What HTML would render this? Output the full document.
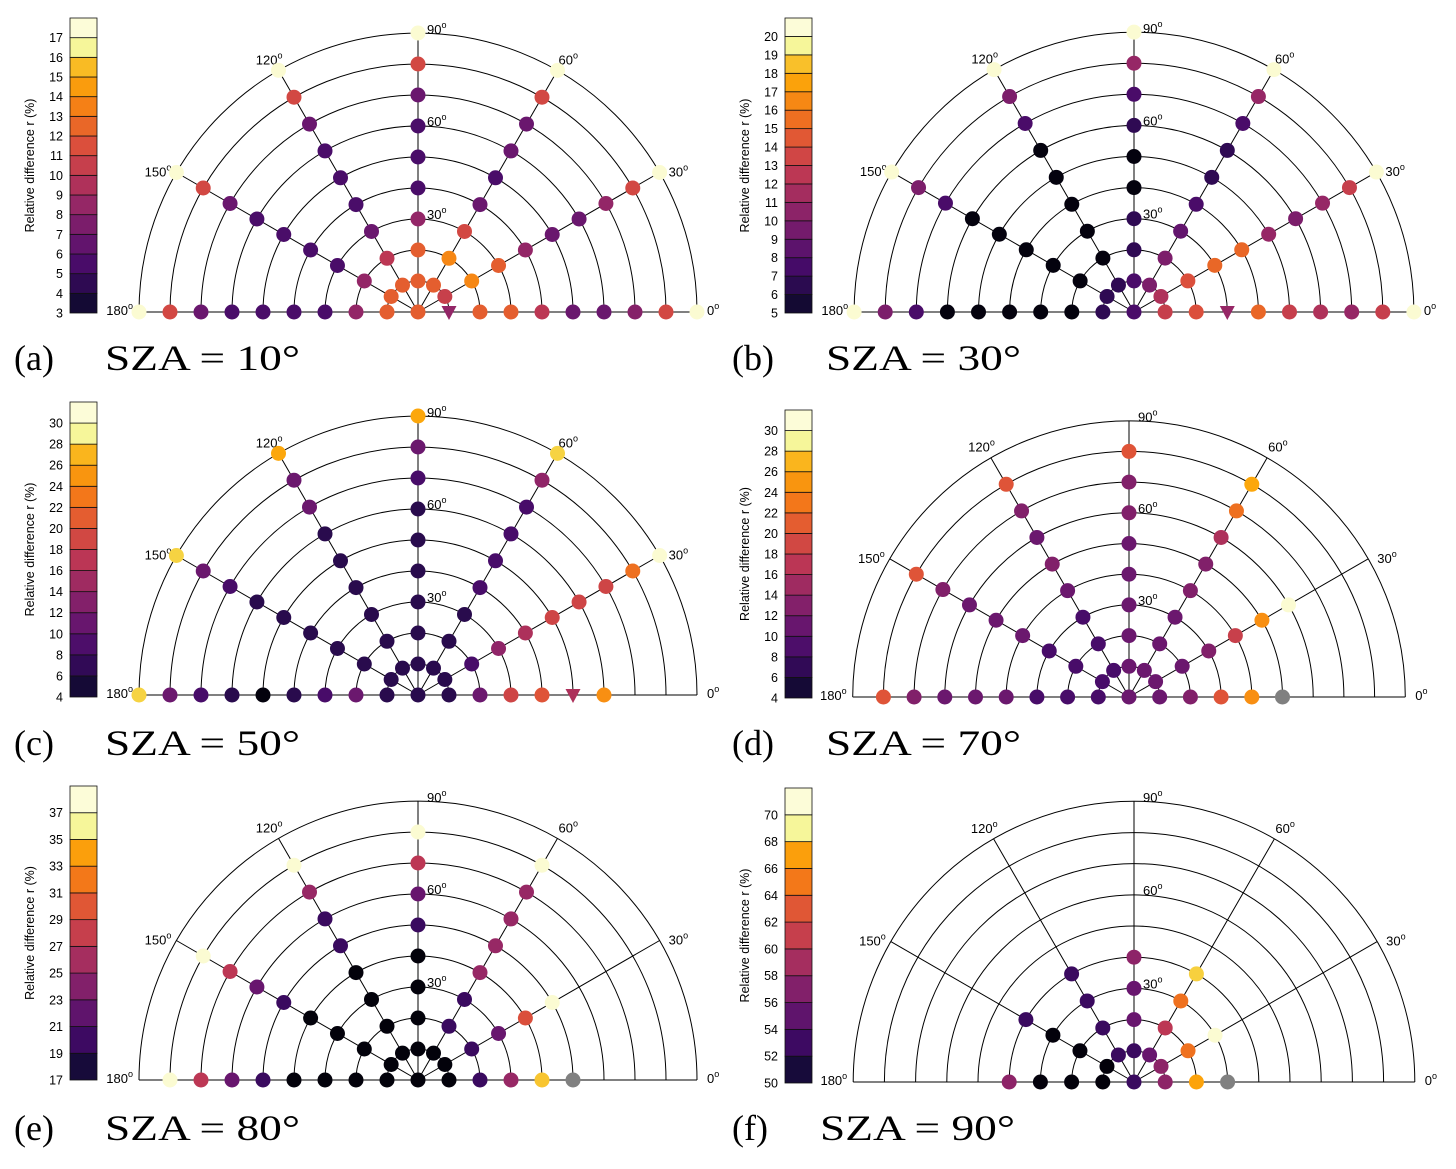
<!DOCTYPE html>
<html><head><meta charset="utf-8"><style>
html,body{margin:0;padding:0;background:#fff;}
svg{display:block;}
</style></head><body>
<svg id="fig" width="1456" height="1169" viewBox="0 0 1456 1169" xmlns="http://www.w3.org/2000/svg"></svg>
<script>
// ---------- data ----------
const spokeAngles = [180,150,120,90,60,30,0];

// Panel a (SZA 10)
const aTicks = [3,4,5,6,7,8,9,10,11,12,13,14,15,16,17];
const aCenter = 12.5;
const a180 = [12.5,9,6.3,6.3,6.3,6.3,7.5,11.5,17.7];
const a150 = [12.5,9,6.3,6.3,6.3,6.3,7.5,11.5,17.7];
const a120 = [12.5,10.5,7.5,6.3,6.3,6.3,7.5,11.5,17.7];
const a90  = [12.5,12.5,9,6.3,6.3,6.3,7.5,11.5,17.7];
const a60  = [12.5,14,11.5,7.5,6.3,7.5,7.5,11.5,17.7];
const a30  = [11,14,12.5,9,7.5,7.5,9,11.5,17.7];
const a0   = [9,12.5,12.5,10.5,7.5,7.5,8.5,11.5,17.7];
const aTriangles = [[0,1]];

// Panel b (SZA 30)
const bTicks = [5,6,7,8,9,10,11,12,13,14,15,16,17,18,19,20];
const bCenter = 8.5;
const b180 = [7.5,5.3,5.3,5.3,5.3,5.3,8.5,10.5,20.8];
const b150 = [7.5,5.3,5.3,5.3,5.3,5.3,8.5,10.5,20.8];
const b120 = [7.5,5.3,5.3,5.3,5.3,5.3,8.5,10.5,20.8];
const b90  = [8.5,7.5,7.5,5.3,5.3,7.5,8.5,11.5,20.8];
const b60  = [10.5,10.5,9.5,8.5,7.5,7.5,8.5,11.5,20.8];
const b30  = [12.5,14.5,15.5,15.5,11.5,10.5,11.5,13.5,20.8];
const b0   = [13.5,14.5,11.5,15.5,13.5,12.5,11.5,13.5,20.8];
const bTriangles = [[0,3]];

// Panel c (SZA 50)
const cTicks = [4,6,8,10,12,14,16,18,20,22,24,26,28,30];
const cCenter = 8;
const c180 = [8,12.5,10,8,4.5,8,10,12.5,29];
const c150 = [8,8,8,8,8,8,10,12.5,29];
const c120 = [8,8,8,8,8,8,12.5,12.5,26.5];
const c90  = [8,8,8,8,8,8,10,12.5,26.5];
const c60  = [8,8,8,10,10,10,10,15,29];
const c30  = [8,10,15,17,19.5,19.5,19.5,23,31.6];
const c0   = [8,12.5,19.5,21,17,25,null,null,null];
const cTriangles = [[0,5]];

// Panel d (SZA 70)
const dTicks = [4,6,8,10,12,14,16,18,20,22,24,26,28,30];
const dCenter = 12.5;
const d180 = [10,10,10,12.5,12.5,12.5,14,21,null];
const d150 = [10,10,10,12.5,12.5,12.5,14,21,null];
const d120 = [10,10,10,12.5,14,12.5,14,21,null];
const d90  = [12.5,12.5,12.5,12.5,12.5,14,14,21,null];
const d60  = [12.5,12.5,12.5,14,14,17,23,26.5,null];
const d30  = [12.5,12.5,14,19,25,31.6,null,null,null];
const d0   = [12.5,14,21,25,NaN,null,null,null,null];
const dTriangles = [];

// Panel e (SZA 80)
const eTicks = [17,19,21,23,25,27,29,31,33,35,37];
const eCenter = 17.3;
const e180 = [17.3,17.3,17.3,17.3,21,23.5,28,38.5,null];
const e150 = [17.3,17.3,17.3,17.3,21,23.5,28,38.5,null];
const e120 = [17.3,17.3,17.3,17.3,21,21,26,38.5,null];
const e90  = [17.3,17.3,17.3,17.3,21,23.5,28,38.5,null];
const e60  = [17.3,21,21,26,26,26,26,38.5,null];
const e30  = [17.3,21,23.5,30,38.5,null,null,null,null];
const e0   = [17.3,21,26,36,NaN,null,null,null,null];
const eTriangles = [];

// Panel f (SZA 90)
const fTicks = [50,52,54,56,58,60,62,64,66,68,70];
const fCenter = 54;
const f180 = [50.3,50.3,50.3,58.5,null,null,null,null,null];
const f150 = [50.3,50.3,50.3,54,null,null,null,null,null];
const f120 = [54,54,54,54,null,null,null,null,null];
const f90  = [54,56.5,56.5,58.5,null,null,null,null,null];
const f60  = [56.5,61,65,69.5,null,null,null,null,null];
const f30  = [58.5,65,71.5,null,null,null,null,null,null];
const f0   = [58.5,67.5,NaN,null,null,null,null,null,null];
const fTriangles = [];

// ---------- layout ----------
const panels = [
 {id:'a',label:'(a)',sza:'SZA = 10°',cx:418,cy:312,dr:31,cbx:70,cbTop:18,cbBot:313,vmin:3,vmax:18,step:1,ticks:aTicks,center:aCenter,vals:[a180,a150,a120,a90,a60,a30,a0],tri:aTriangles,capY:370,capX:14,szaX:105},
 {id:'b',label:'(b)',sza:'SZA = 30°',cx:1134,cy:312,dr:31.1,cbx:785,cbTop:18,cbBot:313,vmin:5,vmax:21,step:1,ticks:bTicks,center:bCenter,vals:[b180,b150,b120,b90,b60,b30,b0],tri:bTriangles,capY:370,capX:732,szaX:826},
 {id:'c',label:'(c)',sza:'SZA = 50°',cx:418,cy:695,dr:31,cbx:70,cbTop:402,cbBot:697,vmin:4,vmax:32,step:2,ticks:cTicks,center:cCenter,vals:[c180,c150,c120,c90,c60,c30,c0],tri:cTriangles,capY:755,capX:14,szaX:105},
 {id:'d',label:'(d)',sza:'SZA = 70°',cx:1129,cy:697,dr:30.7,cbx:785,cbTop:410,cbBot:698,vmin:4,vmax:32,step:2,ticks:dTicks,center:dCenter,vals:[d180,d150,d120,d90,d60,d30,d0],tri:dTriangles,capY:755,capX:732,szaX:826},
 {id:'e',label:'(e)',sza:'SZA = 80°',cx:418,cy:1080,dr:31,cbx:70,cbTop:786,cbBot:1080,vmin:17,vmax:39,step:2,ticks:eTicks,center:eCenter,vals:[e180,e150,e120,e90,e60,e30,e0],tri:eTriangles,capY:1140,capX:14,szaX:105},
 {id:'f',label:'(f)',sza:'SZA = 90°',cx:1134,cy:1082,dr:31.2,cbx:785,cbTop:788,cbBot:1083,vmin:50,vmax:72,step:2,ticks:fTicks,center:fCenter,vals:[f180,f150,f120,f90,f60,f30,f0],tri:fTriangles,capY:1140,capX:732,szaX:820}
];

const inf = ["#000004","#160b39","#420a68","#6a176e","#932667","#bc3754","#dd513a","#f37819","#fca50a","#f6d746","#fcffa4"];
function hx(s){return [parseInt(s.slice(1,3),16),parseInt(s.slice(3,5),16),parseInt(s.slice(5,7),16)];}
function cmap(t){
  t=Math.max(0,Math.min(1,t));
  if(t>=0.96) return '#fbfbd2';
  const p=t*10, i=Math.min(9,Math.floor(p)), f=p-i;
  const A=hx(inf[i]), B=hx(inf[i+1]);
  return 'rgb('+A.map((v,k)=>Math.round(v+(B[k]-v)*f)).join(',')+')';
}
const NS='http://www.w3.org/2000/svg';
const svg=document.getElementById('fig');
function mk(tag,attrs,parent){const e=document.createElementNS(NS,tag);for(const k in attrs)e.setAttribute(k,attrs[k]);(parent||svg).appendChild(e);return e;}
function degText(parent,x,y,num,anchor){
  const t=mk('text',{x:x,y:y,'font-family':'Liberation Sans, sans-serif','font-size':13,'text-anchor':anchor||'start',fill:'#000'},parent);
  
  
  t.appendChild(document.createTextNode(num));
  const s=mk('tspan',{'font-size':9,dy:-6},t);
  s.textContent='o';
  return t;
}

panels.forEach(p=>{
  const g=mk('g',{});
  
  
  // colorbar
  const n=Math.round((p.vmax-p.vmin)/p.step);
  const h=(p.cbBot-p.cbTop)/n;
  const cb=mk('g',{},g);
  
  
  for(let i=0;i<n;i++){
    const col = i===n-1 ? '#fcfcd8' : (i===n-2 ? '#f6f69a' : cmap(Math.min(0.95,0.06+(i+0.5)/n*0.94)));
    const r=mk('rect',{x:p.cbx,y:p.cbBot-(i+1)*h,width:27,height:h,fill:col,stroke:'#111','stroke-width':0.8},cb);
    
    
  }
  p.ticks.forEach(v=>{
    const y=p.cbBot-(v-p.vmin)/p.step*h;
    const t=mk('text',{x:p.cbx-7,y:y+4.5,'font-family':'Liberation Sans, sans-serif','font-size':12.5,'text-anchor':'end',fill:'#000'},cb);
    
    
    t.textContent=v;
  });
  const ymid=(p.cbTop+p.cbBot)/2, lx=p.cbx-36;
  const yl=mk('text',{x:lx,y:ymid,transform:'rotate(-90 '+lx+' '+ymid+')','font-family':'Liberation Sans, sans-serif','font-size':12.5,'text-anchor':'middle',fill:'#000'},cb);
  
  
  yl.textContent='Relative difference r (%)';

  // polar grid
  const R=9*p.dr;
  const grid=mk('g',{fill:'none',stroke:'#000','stroke-width':1},g);
  
  
  for(let k=1;k<=9;k++){
    const r=k*p.dr;
    const a=mk('path',{d:'M'+(p.cx-r)+' '+p.cy+' A'+r+' '+r+' 0 0 1 '+(p.cx+r)+' '+p.cy},grid);
    
    
  }
  const base=mk('line',{x1:p.cx-R,y1:p.cy,x2:p.cx+R,y2:p.cy},grid);
  
  
  [30,60,90,120,150].forEach(ang=>{
    const th=ang*Math.PI/180;
    const l=mk('line',{x1:p.cx,y1:p.cy,x2:p.cx+R*Math.cos(th),y2:p.cy-R*Math.sin(th)},grid);
    
    
  });
  // angle labels
  const lab=mk('g',{},g);
  
  
  degText(lab,p.cx+9,p.cy-R+1,'90');
  degText(lab,p.cx+9,p.cy-6*p.dr,'60');
  degText(lab,p.cx+9,p.cy-3*p.dr,'30');
  const c60=Math.cos(Math.PI/3), s60=Math.sin(Math.PI/3);
  degText(lab,p.cx-R*c60+4,p.cy-R*s60-6,'120','end');
  degText(lab,p.cx+R*c60+1,p.cy-R*s60-6,'60');
  degText(lab,p.cx-R*s60-5,p.cy-R*c60+4,'150','end');
  degText(lab,p.cx+R*s60+9,p.cy-R*c60+4,'30');
  degText(lab,p.cx-R-6,p.cy+3,'180','end');
  degText(lab,p.cx+R+10,p.cy+3,'0');

  // markers
  const marks=mk('g',{},g);
  
  
  function color(v){return isNaN(v)?'#808080':cmap((v-p.vmin)/(p.vmax-p.vmin));}
  const cdot=mk('circle',{cx:p.cx,cy:p.cy,r:7.5,fill:color(p.center)},marks);
  
  
  p.vals.forEach((arr,j)=>{
    const ang=spokeAngles[j], th=ang*Math.PI/180;
    arr.forEach((v,k)=>{
      if(v===null) return;
      const ring=k+1, x=p.cx+ring*p.dr*Math.cos(th), y=p.cy-ring*p.dr*Math.sin(th);
      const isTri=p.tri.some(t=>t[0]===ang&&t[1]===ring);
      let m;
      if(isTri){
        m=mk('path',{d:'M'+(x-7.5)+' '+(y-6)+' L'+(x+7.5)+' '+(y-6)+' L'+x+' '+(y+8)+' Z',fill:color(v)},marks);
      } else {
        m=mk('circle',{cx:x,cy:y,r:7.5,fill:color(v)},marks);
      }
      
      
    });
  });

  // caption
  const cap=mk('text',{x:p.capX,y:p.capY,'font-family':'Liberation Serif, serif','font-size':36,fill:'#000'},g);
  
  
  cap.textContent=p.label;
  const sz=mk('text',{x:p.szaX,y:p.capY,'font-family':'Liberation Serif, serif','font-size':36,fill:'#000',textLength:195,lengthAdjust:'spacingAndGlyphs'},g);
  
  
  sz.textContent=p.sza;
});
</script>
</body></html>
